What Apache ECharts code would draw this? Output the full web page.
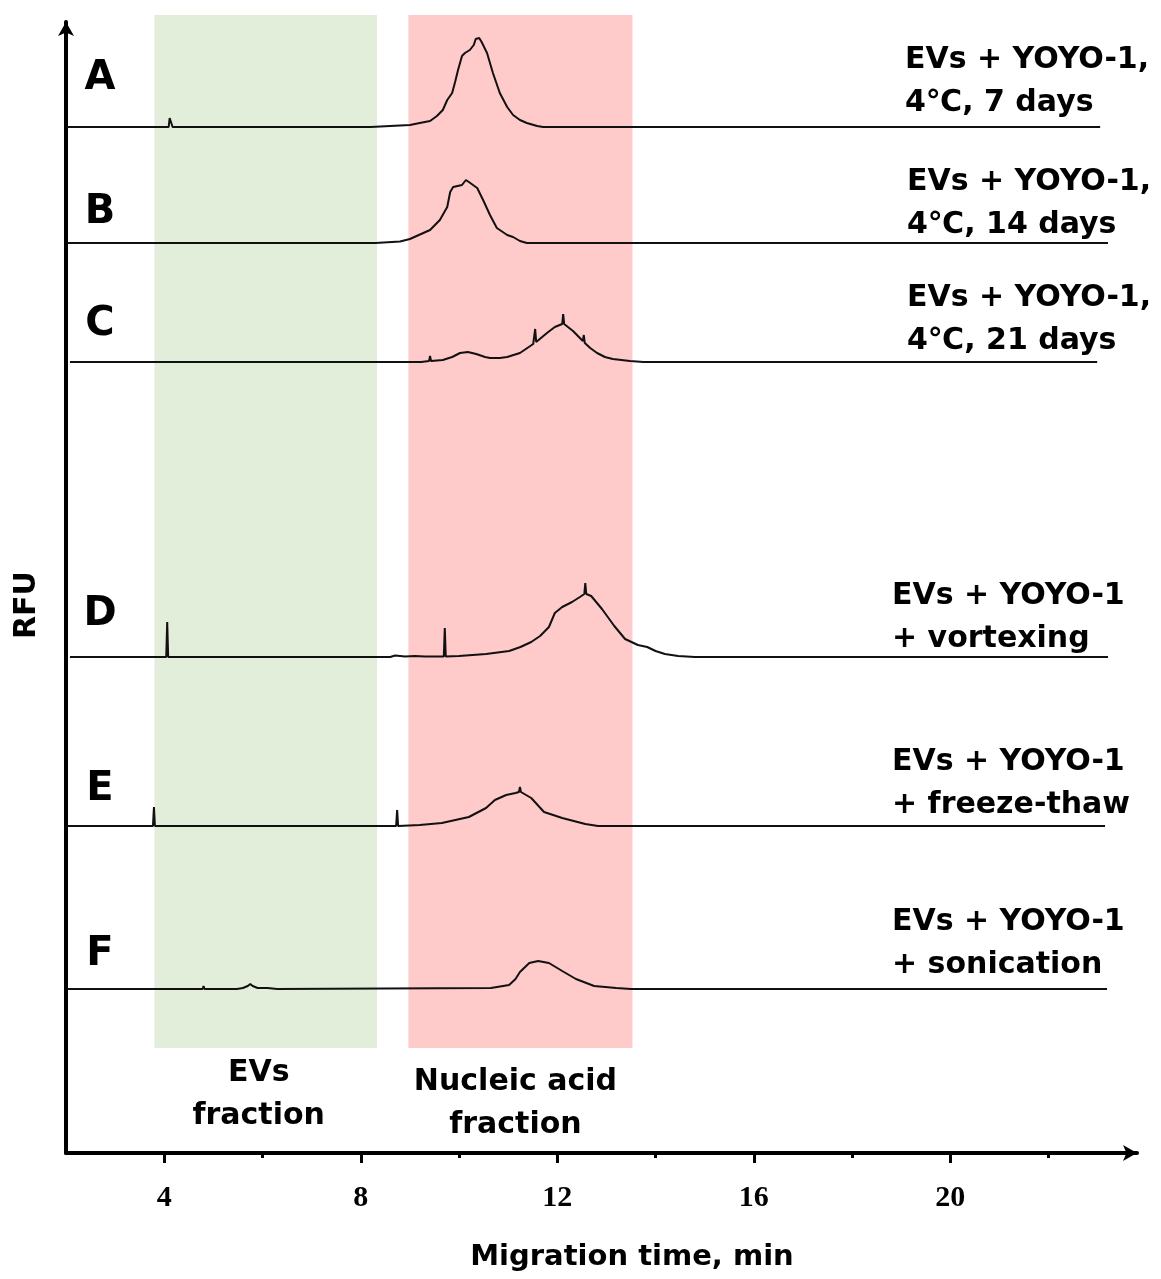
<!DOCTYPE html>
<html>
<head>
<meta charset="utf-8">
<title>Electropherograms</title>
<script src="https://cdn.jsdelivr.net/npm/echarts@6/dist/echarts.min.js"></script>
<style>
  html, body { margin: 0; padding: 0; background: #fff; overflow: hidden; }
  #container { width: 1161px; height: 1279px; }
</style>
</head>
<body>
<div id="container"></div>
<script>
// migration time (min) vs relative signal
var traceA = [[2.02,0],[3.48,0],[3.51,2],[3.54,0],[4.09,0],[4.11,9],[4.15,9],[4.17,0],[5.3,0],[5.32,1],[5.34,0],[6.2,0],[6.22,1],[6.24,0],[7.0,0],[7.02,1],[7.04,0],[7.8,0],[7.82,1],[7.84,0],[8.2,0],[8.6,1],[9.0,2],[9.2,4],[9.41,6],[9.55,11],[9.67,17],[9.76,27],[9.86,34],[9.92,45],[9.98,57],[10.06,71],[10.12,74],[10.22,77],[10.30,82],[10.34,88],[10.37,90],[10.41,89],[10.46,85],[10.57,74],[10.69,54],[10.83,34],[10.98,20],[11.10,12],[11.24,7],[11.38,4],[11.59,1],[11.71,0],[23.05,0]];
var traceB = [[2.02,0],[3.48,0],[3.51,2],[3.54,0],[8.3,0],[8.8,1.5],[9.0,4],[9.41,13],[9.61,23],[9.76,36],[9.82,51],[9.88,56],[10.06,58],[10.14,63],[10.20,61],[10.37,55],[10.49,43],[10.63,28],[10.77,15],[10.98,8],[11.10,6],[11.24,2],[11.38,0],[23.21,0]];
var traceC = [[2.08,0],[3.95,0],[3.97,1],[3.99,0],[5.73,0],[5.75,1],[5.77,0],[6.85,0],[6.87,1],[6.89,0],[7.31,0],[7.33,1],[7.35,0],[7.70,0],[7.72,1],[7.74,0],[8.23,0],[8.25,1],[8.27,0],[9.23,0],[9.25,2],[9.27,0],[9.39,1],[9.41,6],[9.43,1],[9.67,2],[9.86,5],[10.02,9],[10.18,10],[10.35,8],[10.53,5],[10.55,7],[10.57,5],[10.63,4],[10.83,4],[10.98,5],[11.24,9],[11.51,18],[11.53,19],[11.55,33],[11.57,20],[11.79,29],[11.95,35],[12.10,38],[12.12,48],[12.14,38],[12.32,31],[12.52,21],[12.54,27],[12.56,19],[12.67,14],[12.81,9],[12.97,5],[13.13,3],[13.48,1],[13.75,0],[14.2,0],[14.22,1],[14.24,0],[15.0,0],[15.02,1],[15.04,0],[15.8,0],[15.82,1],[15.84,0],[22.99,0]];
var traceD = [[2.08,0],[2.6,0],[2.62,1],[2.64,0],[3.2,0],[3.22,1],[3.24,0],[3.7,0],[3.72,1],[3.74,0],[4.04,0],[4.06,35],[4.08,0],[4.6,0],[4.62,1],[4.64,0],[5.4,0],[5.42,1],[5.44,0],[6.3,0],[6.32,1],[6.34,0],[7.2,0],[7.22,1],[7.24,0],[8.1,0],[8.12,1],[8.14,0],[8.6,0],[8.7,1.5],[8.9,0.5],[9.1,1],[9.3,0.5],[9.69,0.5],[9.71,29],[9.73,0.5],[10.0,1],[10.55,3],[11.02,6],[11.25,10],[11.47,15],[11.65,21],[11.83,30],[11.95,44],[12.10,50],[12.30,55],[12.46,60],[12.55,63],[12.57,74],[12.59,63],[12.69,61],[12.91,48],[13.16,31],[13.38,18],[13.64,12],[13.83,10],[14.0,6],[14.19,3],[14.46,1],[14.8,0],[15.5,0],[15.52,1],[15.54,0],[23.21,0]];
var traceE = [[2.02,0],[3.2,0],[3.22,1],[3.24,0],[3.77,0],[3.79,19],[3.81,0],[5.45,0],[5.47,1],[5.49,0],[7.6,0],[7.62,1],[7.64,0],[7.9,0],[7.92,1],[7.94,0],[8.2,0],[8.22,1],[8.24,0],[8.5,0],[8.52,1],[8.54,0],[8.72,0],[8.74,16],[8.76,0],[9.2,1],[9.65,3],[10.2,9],[10.55,18],[10.73,26],[10.96,31],[11.15,33],[11.22,34],[11.24,39],[11.26,34],[11.47,28],[11.73,14],[12.1,8],[12.57,2],[12.83,0],[23.15,0]];
var traceF = [[2.02,0],[3.58,0],[3.6,2],[3.62,0],[4.3,0],[4.33,1],[4.36,0],[4.78,0],[4.8,3],[4.82,0],[5.0,0],[5.02,1],[5.04,0],[5.18,0],[5.2,2],[5.22,0],[5.48,0],[5.5,2],[5.52,0.5],[5.6,1],[5.7,3],[5.75,5],[5.8,3],[5.9,1],[6.1,1],[6.3,0],[10.65,1],[11.02,4],[11.15,10],[11.24,17],[11.43,26],[11.61,28],[11.83,26],[12.1,18],[12.38,10],[12.75,3],[13.2,1],[13.5,0],[23.19,0]];

var traces = [traceA, traceB, traceC, traceD, traceE, traceF];
var traceLetters = ['A', 'B', 'C', 'D', 'E', 'F'];
var traceNotes = [
  'EVs + YOYO-1,\n4℃, 7 days',
  'EVs + YOYO-1,\n4℃, 14 days',
  'EVs + YOYO-1,\n4℃, 21 days',
  'EVs + YOYO-1\n+ vortexing',
  'EVs + YOYO-1\n+ freeze-thaw',
  'EVs + YOYO-1\n+ sonication'
];
var bandNames = ['EVs\nfraction', 'Nucleic acid\nfraction'];
var bandFrom = [3.8, 8.97];
var bandTo = [8.33, 13.53];
var majorTicks = [4, 8, 12, 16, 20];
var minorTicks = [6, 10, 14, 18, 22];

// layout (pixels)
var gridLeft = 66, gridRight = 24;
var baselines = [127, 243, 362, 657, 826, 989];
var letterY = [79, 213, 325, 615, 790, 955];
var noteX = [905, 907, 907, 892, 892, 892];
var noteY = [82, 204, 320, 618, 784, 944];
var bandColors = ['#e2eed9', '#fecaca'];
var bandLabelGap = [4, 13];
var bandLabelShift = [-7, -5];

var myChart = echarts.init(document.getElementById('container'));
var font = 'DejaVu Sans';

var grids = [
  { left: gridLeft, right: gridRight, top: 22, bottom: 126, containLabel: false, outerBoundsMode: 'none' },
  { left: gridLeft, right: gridRight, top: 15, height: 1033, outerBoundsMode: 'none' }
];
var xAxes = [
  {
    gridIndex: 0, type: 'value', min: 2, max: 23.8, interval: 2, position: 'bottom',
    name: 'Migration time, min', nameLocation: 'middle', nameGap: 90,
    nameTextStyle: { color: '#000', fontFamily: font, fontWeight: 'bold', fontSize: 29, padding: [0, 0, 0, 61] },
    axisLine: { show: true, lineStyle: { color: '#000', width: 4 }, symbol: ['none', 'arrow'], symbolSize: [12, 14] },
    axisTick: { show: true, customValues: majorTicks, length: 10, lineStyle: { color: '#000', width: 3 } },
    axisLabel: {
      customValues: majorTicks, margin: 30, color: '#000',
      fontFamily: 'Liberation Serif', fontWeight: 'bold', fontSize: 30,
      formatter: function (v) { return v % 4 === 0 ? String(v) : ''; }
    },
    splitLine: { show: false }
  },
  {
    gridIndex: 0, type: 'value', min: 2, max: 23.8, interval: 2, position: 'bottom',
    axisLine: { show: false },
    axisTick: { show: true, customValues: minorTicks, length: 5, lineStyle: { color: '#000', width: 3 } },
    axisLabel: { show: false },
    splitLine: { show: false }
  },
  { gridIndex: 1, type: 'value', min: 2, max: 23.8, show: false }
];
var yAxes = [
  {
    gridIndex: 0, type: 'value', min: 0, max: 1,
    axisLine: { show: true, lineStyle: { color: '#000', width: 4 }, symbol: ['none', 'arrow'], symbolSize: [12, 14] },
    axisTick: { show: false }, axisLabel: { show: false }, splitLine: { show: false }
  },
  { gridIndex: 1, type: 'value', min: 0, max: 1, show: false }
];

var bandData = [];
for (var b = 0; b < bandNames.length; b++) {
  bandData.push([
    {
      name: bandNames[b], xAxis: bandFrom[b], yAxis: 0,
      itemStyle: { color: bandColors[b] },
      label: {
        show: true, position: 'bottom', distance: bandLabelGap[b], offset: [bandLabelShift[b], 0],
        color: '#000', fontFamily: font, fontWeight: 'bold', fontSize: 30, lineHeight: 43, align: 'center'
      }
    },
    { xAxis: bandTo[b], yAxis: 1 }
  ]);
}

var series = [{
  type: 'line', xAxisIndex: 2, yAxisIndex: 1, z: 1,
  data: [[2, 0]], symbol: 'none', lineStyle: { opacity: 0 }, silent: true,
  markArea: { silent: true, data: bandData }
}];

var graphics = [];
for (var i = 0; i < traces.length; i++) {
  grids.push({ left: gridLeft, right: gridRight, top: baselines[i] - 100, height: 100, outerBoundsMode: 'none' });
  xAxes.push({ gridIndex: i + 2, type: 'value', min: 2, max: 23.8, show: false });
  yAxes.push({ gridIndex: i + 2, type: 'value', min: 0, max: 100, show: false });
  series.push({
    name: traceLetters[i], type: 'line', xAxisIndex: i + 3, yAxisIndex: i + 2, z: 5,
    data: traces[i], symbol: 'none', clip: false,
    lineStyle: { color: '#111', width: 2 }
  });
  graphics.push({
    type: 'text',
    style: { text: traceLetters[i], x: 100, y: letterY[i], textAlign: 'center', textVerticalAlign: 'middle',
      font: 'bold 40px "DejaVu Sans"', fill: '#000' }
  });
  graphics.push({
    type: 'text',
    style: { text: traceNotes[i], x: noteX[i], y: noteY[i], textAlign: 'left', textVerticalAlign: 'middle',
      font: 'bold 30px "DejaVu Sans"', lineHeight: 43, fill: '#000' }
  });
}

graphics.push({
  type: 'text', rotation: Math.PI / 2, x: 27, y: 605,
  style: { text: 'RFU', x: 0, y: 0, textAlign: 'center', textVerticalAlign: 'middle',
    font: 'bold 30px "DejaVu Sans"', fill: '#000' }
});

var option = {
  animation: false,
  backgroundColor: '#fff',
  grid: grids,
  xAxis: xAxes,
  yAxis: yAxes,
  series: series,
  graphic: graphics
};

myChart.setOption(option);
</script>
</body>
</html>
